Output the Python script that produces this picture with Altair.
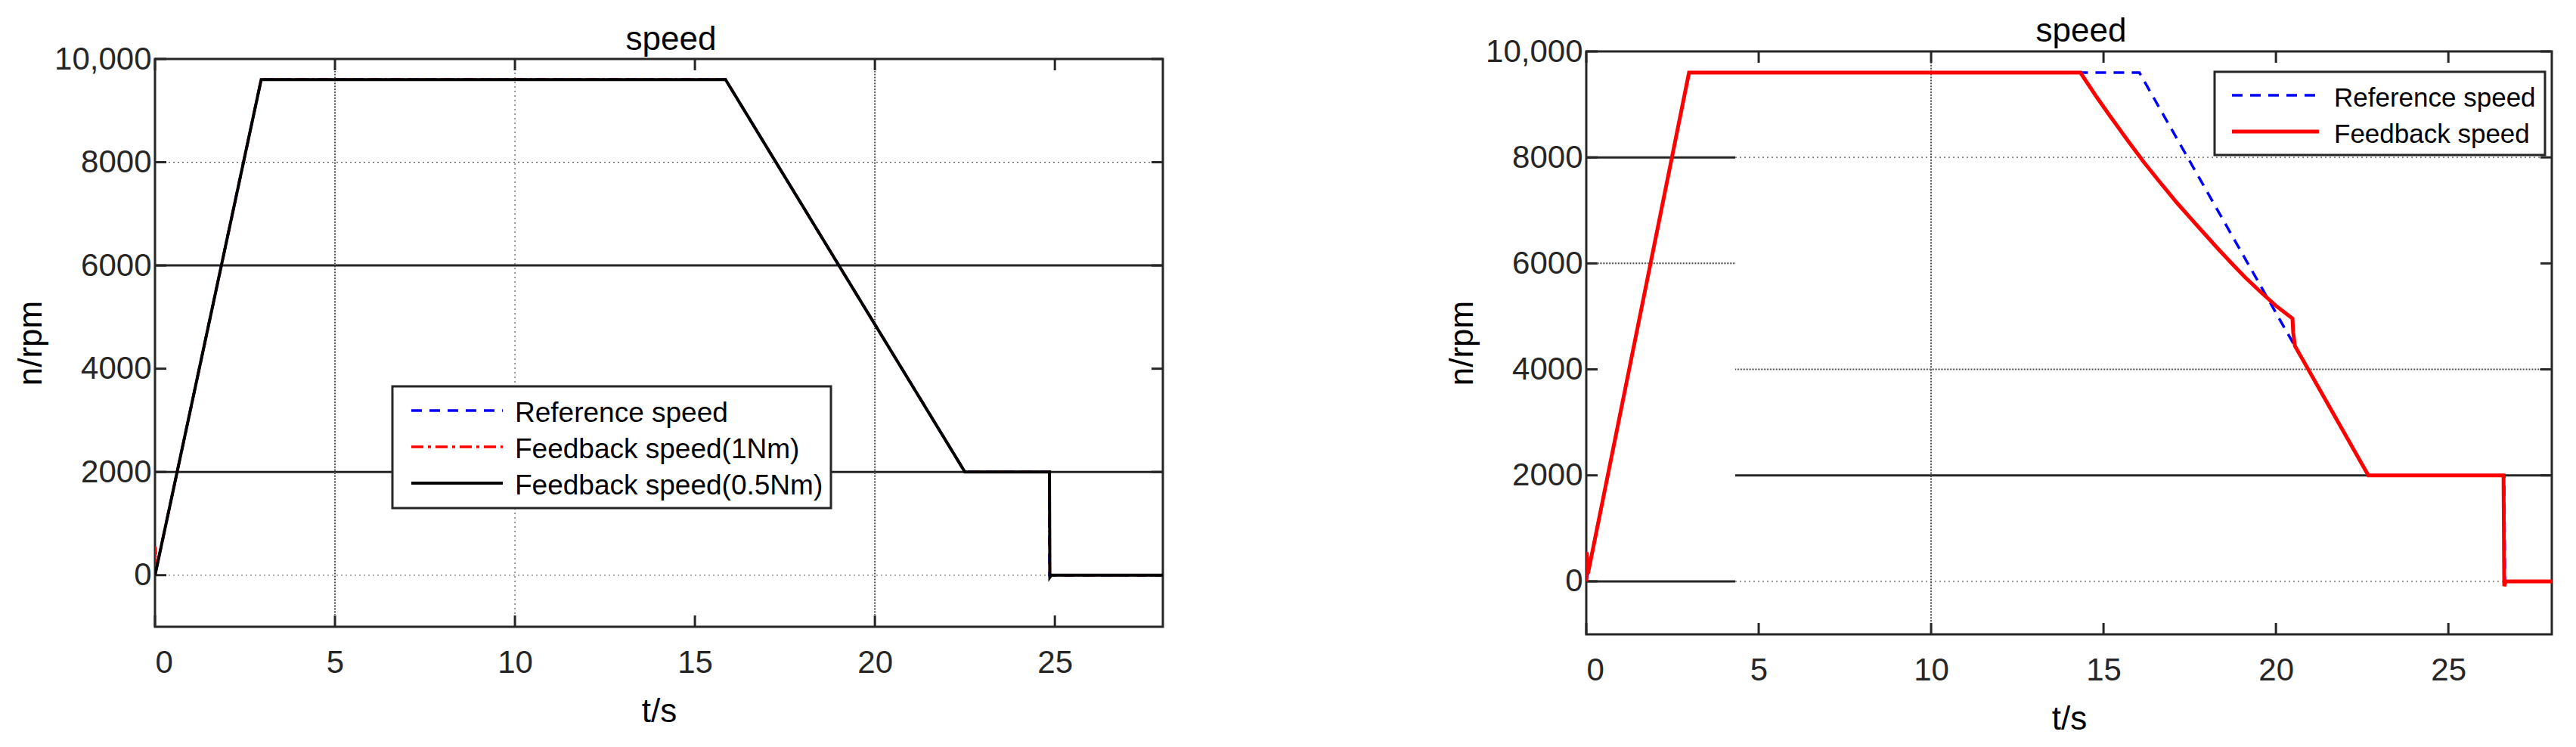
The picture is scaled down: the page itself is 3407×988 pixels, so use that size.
import altair as alt
import pandas as pd

# ---------------- data ----------------
X_TICKS = [0, 5, 10, 15, 20, 25]
Y_TICKS = [0, 2000, 4000, 6000, 8000, 10000]

# left panel
L_NAMES = ["Reference speed", "Feedback speed(1Nm)", "Feedback speed(0.5Nm)"]
L_REF_T = [0, 2.95, 15.85, 22.5, 24.85, 24.85, 28]
L_REF_V = [0, 9600, 9600, 2000, 2000, 0, 0]
L_1NM_T = [0, 0.01, 0.05, 2.95, 15.85, 22.5, 24.85, 24.86, 28]
L_1NM_V = [0, 550, 160, 9600, 9600, 2000, 2000, 0, 0]
L_05NM_T = [0, 2.95, 15.85, 22.5, 24.85, 24.86, 24.9, 28]
L_05NM_V = [0, 9600, 9600, 2000, 2000, -40, 0, 0]

# right panel
R_NAMES = ["Reference speed", "Feedback speed"]
R_REF_T = [0, 2.98, 16.04, 22.68, 26.62, 26.64, 28]
R_REF_V = [0, 9600, 9600, 2000, 2000, 0, 0]
R_FB_T = [0, 0.01, 0.05, 2.98, 14.33, 14.8, 15.2, 15.7, 16.17, 16.6, 17.12, 17.5,
          17.9, 18.3, 18.73, 19.1, 19.54, 20.0, 20.48, 20.5, 20.55, 22.68,
          26.6, 26.62, 26.66, 28]
R_FB_V = [0, 550, 150, 9600, 9600, 9140, 8770, 8320, 7910, 7560, 7150, 6870,
          6580, 6290, 5990, 5740, 5470, 5200, 4960, 4700, 4443, 2000,
          2000, -90, 0, 0]

FONT = "Liberation Sans"
AXC = "#262626"

GRID = {
    "solid": dict(color=AXC, strokeWidth=3),
    "dot": dict(color="#555555", strokeWidth=1.2, strokeDash=[2, 4]),
    "dense": dict(color="#4a4a4a", strokeWidth=2, strokeDash=[1, 1]),
}
LINE = {
    "blue_dash": dict(color="#0000ff", strokeWidth=3.5, strokeDash=[14, 10]),
    "red_dashdot": dict(color="#ff0000", strokeWidth=3.5, strokeDash=[16, 6, 4, 6]),
    "black": dict(color="#000000", strokeWidth=4),
    "red": dict(color="#ff0000", strokeWidth=5),
}


def panel(series, hgrid, vgrid, W, H, legend, title_dx, title_off):
    xs = alt.Scale(domain=[0, 28], nice=False, zero=False)
    ys = alt.Scale(domain=[-1000, 10000], nice=False, zero=False)
    xax = alt.Axis(title="t/s", values=X_TICKS, ticks=False, domain=False, grid=False,
                   labelFontSize=42, labelFont=FONT, labelColor=AXC, labelPadding=27,
                   titleFontSize=44, titleFont=FONT, titleFontWeight="normal",
                   titleColor="#000000", titlePadding=22)
    yax = alt.Axis(title="n/rpm", values=Y_TICKS, ticks=False, domain=False, grid=False,
                   labelFontSize=42, labelFont=FONT, labelColor=AXC, labelPadding=5,
                   labelExpr="datum.value == 10000 ? '10,000' : datum.value",
                   titleFontSize=44, titleFont=FONT, titleFontWeight="normal",
                   titleColor="#000000", titlePadding=8)
    X = lambda f: alt.X(f, scale=xs, axis=xax)
    Y = lambda f: alt.Y(f, scale=ys, axis=yax)

    layers = []
    # grid lines
    for v, t0, t1, st in hgrid:
        d = pd.DataFrame({"t": [t0], "t1": [t1], "v": [v]})
        layers.append(alt.Chart(d).mark_rule(**GRID[st]).encode(
            x=X("t:Q"), x2="t1:Q", y=Y("v:Q")))
    for t, st in vgrid:
        d = pd.DataFrame({"t": [t]})
        layers.append(alt.Chart(d).mark_rule(**GRID[st]).encode(
            x=X("t:Q"), y=alt.value(0), y2=alt.value(H)))
    # inward ticks on all four sides
    xt = pd.DataFrame({"t": X_TICKS})
    yt = pd.DataFrame({"v": Y_TICKS})
    tk = dict(color=AXC, strokeWidth=3)
    layers.append(alt.Chart(xt).mark_rule(**tk).encode(x=X("t:Q"), y=alt.value(H), y2=alt.value(H - 15)))
    layers.append(alt.Chart(xt).mark_rule(**tk).encode(x=X("t:Q"), y=alt.value(0), y2=alt.value(15)))
    layers.append(alt.Chart(yt).mark_rule(**tk).encode(y=Y("v:Q"), x=alt.value(0), x2=alt.value(15)))
    layers.append(alt.Chart(yt).mark_rule(**tk).encode(y=Y("v:Q"), x=alt.value(W), x2=alt.value(W - 15)))

    # data series
    for name, ts, vs, style in series:
        df = pd.DataFrame({"t": ts, "v": vs, "s": [name] * len(ts), "i": list(range(len(ts)))})
        layers.append(alt.Chart(df).mark_line(clip=True, **LINE[style]).encode(
            x=X("t:Q"), y=Y("v:Q"), order="i:Q"))

    # legend box (MATLAB style, inside the axes)
    bx0, by0, bx1, by1, sx0, sx1, tx, row0, rowstep, fs = legend
    one = pd.DataFrame({"k": [0]})
    layers.append(alt.Chart(one).mark_rect(fill="#ffffff", stroke=AXC, strokeWidth=3).encode(
        x=alt.value(bx0), x2=alt.value(bx1), y=alt.value(by0), y2=alt.value(by1)))
    for k, (name, ts, vs, style) in enumerate(series):
        ry = row0 + k * rowstep
        lab = pd.DataFrame({"s": [name]})
        layers.append(alt.Chart(lab).mark_rule(**LINE[style]).encode(
            x=alt.value(sx0), x2=alt.value(sx1), y=alt.value(ry)))
        layers.append(alt.Chart(lab).mark_text(align="left", baseline="middle", font=FONT,
                                               fontSize=fs, color="#000000").encode(
            x=alt.value(tx), y=alt.value(ry + 4), text="s:N"))

    return alt.layer(*layers).properties(
        width=W, height=H,
        title=alt.TitleParams("speed", fontSize=44, font=FONT, fontWeight="normal",
                              color="#000000", anchor="middle", frame="group",
                              baseline="alphabetic", offset=title_off, dx=title_dx, dy=69))


left = panel(
    [(L_NAMES[0], L_REF_T, L_REF_V, "blue_dash"),
     (L_NAMES[1], L_1NM_T, L_1NM_V, "red_dashdot"),
     (L_NAMES[2], L_05NM_T, L_05NM_V, "black")],
    hgrid=[(8000, 0, 28, "dot"), (6000, 0, 28, "solid"), (2000, 0, 28, "solid"), (0, 0, 28, "dot")],
    vgrid=[(5, "dense"), (10, "dot"), (20, "dense")],
    W=1333, H=751,
    legend=(314, 433, 894, 594, 339, 460, 476, 465, 48, 37),
    title_dx=16, title_off=16)

right = panel(
    [(R_NAMES[0], R_REF_T, R_REF_V, "blue_dash"),
     (R_NAMES[1], R_FB_T, R_FB_V, "red")],
    hgrid=[(8000, 0, 4.32, "solid"), (8000, 4.32, 28, "dot"), (6000, 0, 4.32, "dense"),
           (4000, 4.32, 28, "dense"), (2000, 4.32, 28, "solid"), (0, 0, 4.32, "solid"),
           (0, 4.32, 28, "dot")],
    vgrid=[(10, "dense")],
    W=1277, H=771,
    legend=(831, 27, 1268, 137, 854, 969, 989, 58, 48, 35),
    title_dx=16, title_off=17)

chart = alt.hconcat(left, right, spacing=560, bounds="flush", center=True).properties(
    padding={"left": 10, "top": 10, "right": 5, "bottom": 5}
).configure_view(stroke=AXC, strokeWidth=3)

chart.save("out.html", embed_options={"renderer": "svg", "actions": False})
